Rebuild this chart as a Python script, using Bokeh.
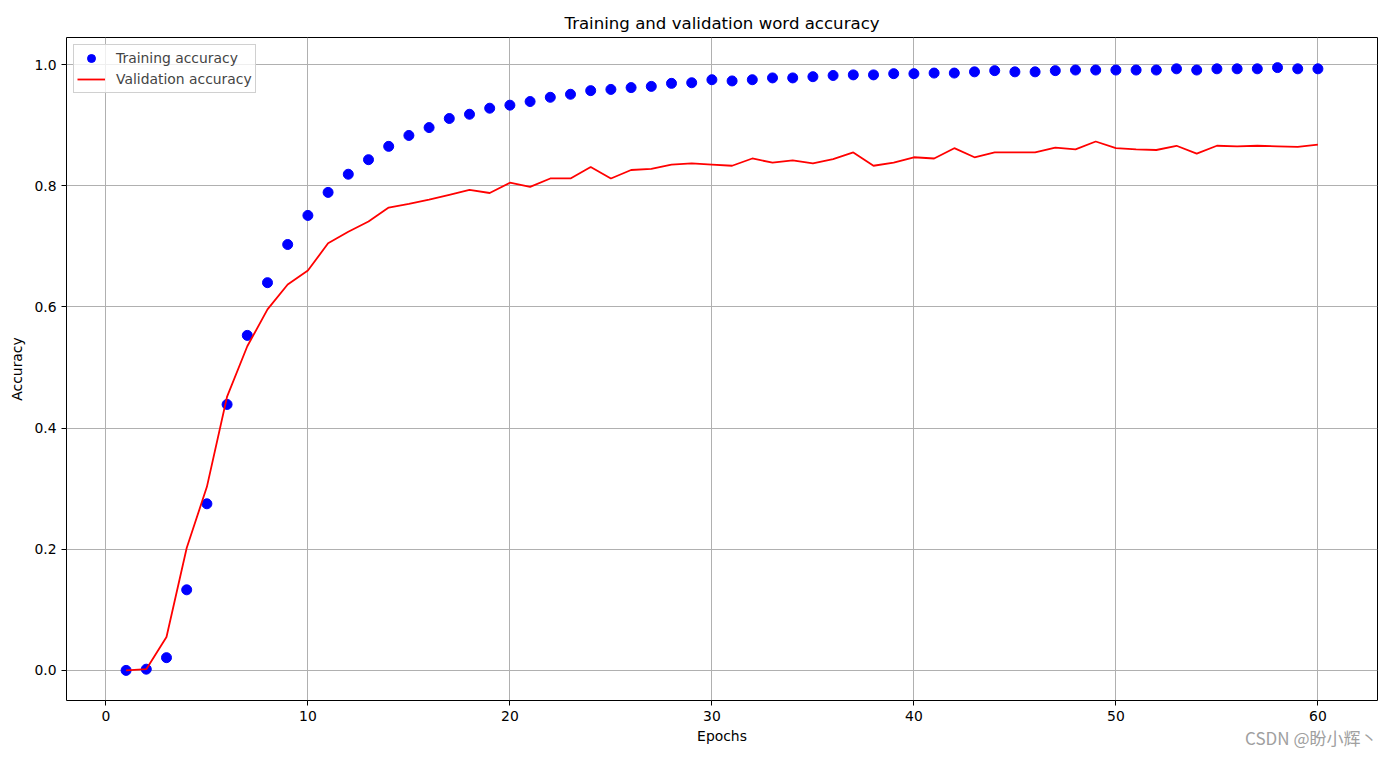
from bokeh.plotting import figure
from bokeh.models import Range1d, Legend, LegendItem, Title, FixedTicker, CustomJSTickFormatter
from bokeh.embed import file_html
from bokeh.resources import INLINE

epochs = list(range(1, 61))
train_acc = [0.0, 0.002, 0.021, 0.133, 0.275, 0.439, 0.553, 0.640, 0.703, 0.751,
             0.789, 0.819, 0.843, 0.865, 0.883, 0.896, 0.911, 0.918, 0.928, 0.933,
             0.939, 0.946, 0.951, 0.957, 0.959, 0.962, 0.964, 0.969, 0.970, 0.975,
             0.973, 0.975, 0.978, 0.978, 0.980, 0.982, 0.983, 0.983, 0.985, 0.985,
             0.986, 0.986, 0.988, 0.990, 0.988, 0.988, 0.990, 0.991, 0.991, 0.991,
             0.991, 0.991, 0.993, 0.991, 0.993, 0.993, 0.993, 0.995, 0.993, 0.993]
val_acc = [0.0, 0.002, 0.055, 0.202, 0.303, 0.452, 0.535, 0.596, 0.637, 0.660,
           0.705, 0.724, 0.741, 0.764, 0.770, 0.777, 0.785, 0.793, 0.788, 0.805,
           0.798, 0.812, 0.812, 0.831, 0.812, 0.826, 0.828, 0.835, 0.837, 0.835,
           0.833, 0.845, 0.838, 0.842, 0.837, 0.844, 0.855, 0.833, 0.838, 0.847,
           0.845, 0.862, 0.847, 0.855, 0.855, 0.855, 0.863, 0.860, 0.873, 0.862,
           0.860, 0.859, 0.866, 0.853, 0.866, 0.865, 0.866, 0.865, 0.864, 0.868]
x_ticks = [0, 10, 20, 30, 40, 50, 60]
y_ticks = [0.0, 0.2, 0.4, 0.6, 0.8, 1.0]

FONT = "DejaVu Sans"

p = figure(width=1390, height=756, output_backend="svg", toolbar_location=None,
           x_range=Range1d(-1.95, 62.95), y_range=Range1d(-0.0497, 1.0447),
           min_border_left=66, min_border_right=13, min_border_top=37, min_border_bottom=56)

p.title.text = "Training and validation word accuracy"
p.title.align = "center"
p.title.text_font = FONT
p.title.text_font_size = "16.6px"
p.title.text_font_style = "normal"
p.title.text_color = "black"

p.outline_line_color = "black"
p.outline_line_width = 1

for ax, lab, ticks in ((p.xaxis, "Epochs", x_ticks), (p.yaxis, "Accuracy", y_ticks)):
    ax.axis_label = lab
    ax.axis_label_text_font = FONT
    ax.axis_label_text_font_size = "13.9px"
    ax.axis_label_text_font_style = "normal"
    ax.axis_label_text_color = "black"
    ax.major_label_text_font = FONT
    ax.major_label_text_font_size = "13.9px"
    ax.major_label_text_color = "black"
    ax.ticker = FixedTicker(ticks=ticks)
    ax.minor_tick_line_color = None
    ax.major_tick_out = 5
    ax.major_tick_in = 0
    ax.major_tick_line_color = "black"
    ax.axis_line_color = None

p.xaxis.axis_label_standoff = 4
p.yaxis.axis_label_standoff = 6
p.yaxis.major_label_orientation = "horizontal"
p.yaxis.formatter = CustomJSTickFormatter(code="return tick.toFixed(1);")

p.grid.grid_line_color = "#b0b0b0"
p.grid.grid_line_width = 1

sc = p.scatter(epochs, train_acc, size=10, fill_color="blue", line_color="blue")
ln = p.line(epochs, val_acc, line_color="red", line_width=1.8)

legend = Legend(items=[LegendItem(label="Training accuracy", renderers=[sc]),
                       LegendItem(label="Validation accuracy", renderers=[ln])],
                location="top_left", label_text_font=FONT, label_text_font_size="13.9px",
                border_line_color="#d0d0d0", border_line_alpha=1, background_fill_alpha=0.8,
                margin=7, padding=3, spacing=1, glyph_height=20, glyph_width=28,
                label_height=20, label_standoff=11)
p.add_layout(legend)

wm = Title(text="CSDN @盼小辉丶", align="right", vertical_align="top",
           text_font="Noto Sans CJK SC", text_font_size="17px", text_font_style="normal",
           text_color="#a0a0a0", standoff=-44, offset=0)
p.add_layout(wm, "below")

open("out.html", "w").write(file_html(p, INLINE))
